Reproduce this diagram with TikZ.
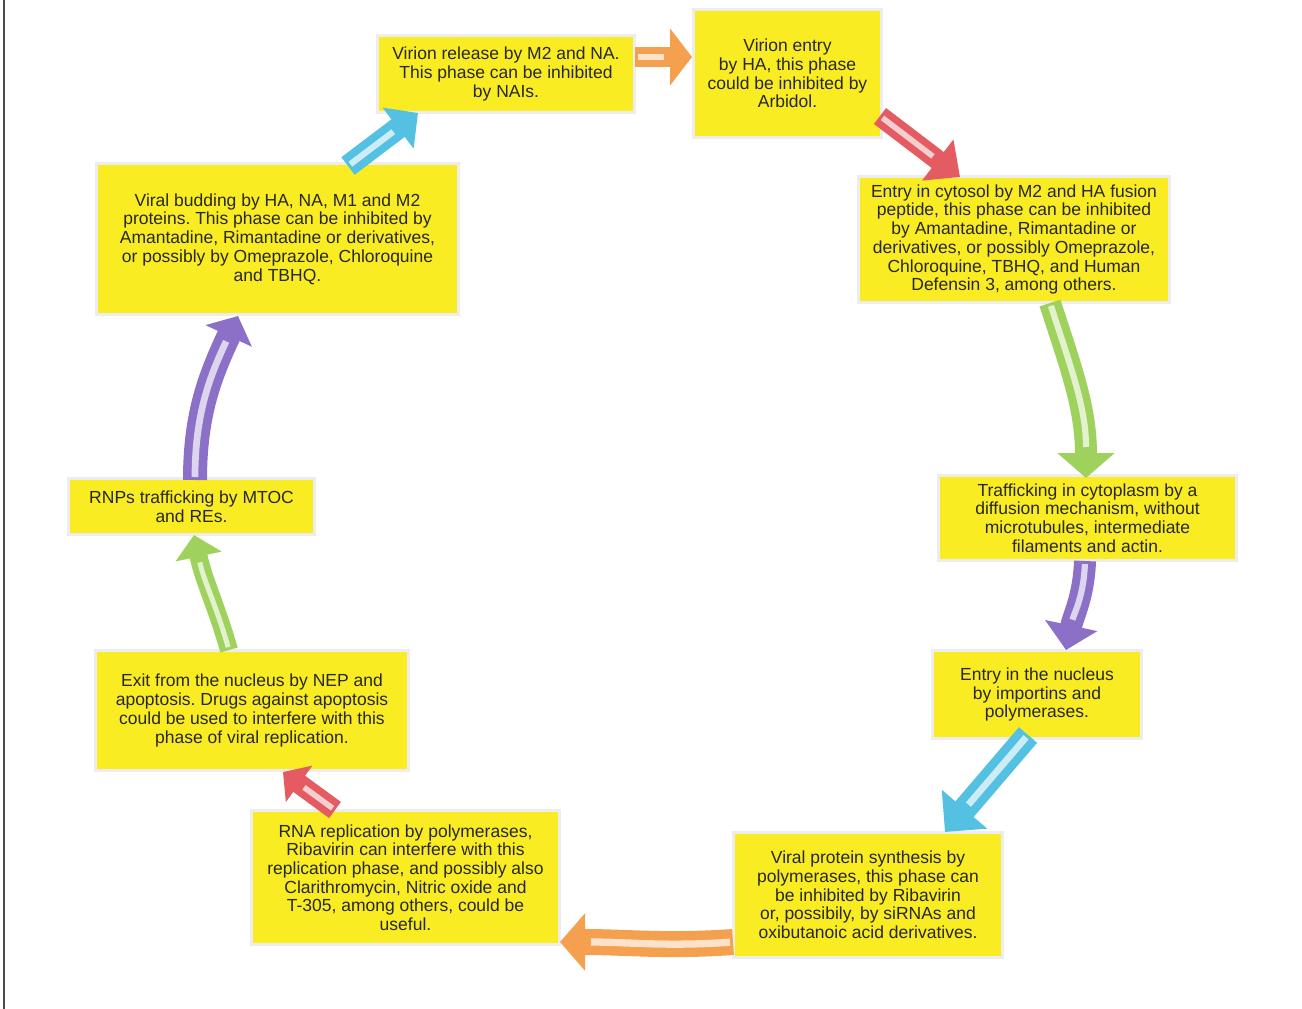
\documentclass[tikz,border=0pt]{standalone}
\usepackage{fontspec}
\setmainfont{Liberation Sans}
\usetikzlibrary{arrows.meta}
\frenchspacing
\definecolor{boxyellow}{RGB}{249,236,34}
\definecolor{txt}{RGB}{40,40,40}
\definecolor{aorange}{RGB}{244,160,78}
\definecolor{ared}{RGB}{228,92,98}
\definecolor{agreen}{RGB}{158,210,92}
\definecolor{apurple}{RGB}{140,112,200}
\definecolor{acyan}{RGB}{84,192,226}
\newcommand\blockarrow[7]{%
  \draw[draw=#1, line width=#2pt, -{Triangle[length=#4pt,width=#3pt]}] (#5) #6 (#7);
  \draw[draw=#1!30!white, line width=0.28*#2pt, shorten >=#4pt+6pt, shorten <=3pt] (#5) #6 (#7);
}
\begin{document}
\begin{tikzpicture}[x=1pt,y=-1pt,
  stagebox/.style={rectangle, fill=boxyellow, preaction={draw=black!7, line width=6pt},
    text=txt, align=center, inner sep=0pt,
    font=\frenchspacing\fontsize{17.5}{18.7}\selectfont}]
\useasboundingbox (0,0) rectangle (1302,1009);
\fill[white] (0,0) rectangle (1302,1009);
\draw[black!70, line width=1.3pt] (4,0) -- (4,1009);

\node[stagebox, minimum width=254pt, minimum height=74pt] (rel) at (506,74)
  {Virion release by M2 and NA.\\This phase can be inhibited\\by NAIs.};
\node[stagebox, minimum width=185pt, minimum height=125pt] (ent) at (787.5,73.5)
  {Virion entry\\by HA, this phase\\could be inhibited by\\Arbidol.};
\node[stagebox, minimum width=308pt, minimum height=123pt] (cyt) at (1014,239.5)
  {Entry in cytosol by M2 and HA fusion\\peptide, this phase can be inhibited\\by Amantadine, Rimantadine or\\derivatives, or possibly Omeprazole,\\Chloroquine, TBHQ, and Human\\Defensin 3, among others.};
\node[stagebox, minimum width=295pt, minimum height=82pt] (traf) at (1087.5,518)
  {Trafficking in cytoplasm by a\\diffusion mechanism, without\\microtubules, intermediate\\filaments and actin.};
\node[stagebox, minimum width=206pt, minimum height=85pt] (nuc) at (1037,694.5)
  {Entry in the nucleus\\by importins and\\polymerases.};
\node[stagebox, minimum width=266pt, minimum height=122pt] (prot) at (868,895)
  {Viral protein synthesis by\\polymerases, this phase can\\be inhibited by Ribavirin\\or, possibily, by siRNAs and\\oxibutanoic acid derivatives.};
\node[stagebox, minimum width=305pt, minimum height=131pt] (rna) at (405.5,877.5)
  {RNA replication by polymerases,\\Ribavirin can interfere with this\\replication phase, and possibly also\\Clarithromycin, Nitric oxide and\\T-305, among others, could be\\useful.};
\node[stagebox, minimum width=310pt, minimum height=117pt] (exit) at (252,710.5)
  {Exit from the nucleus by NEP and\\apoptosis. Drugs against apoptosis\\could be used to interfere with this\\phase of viral replication.};
\node[stagebox, minimum width=243pt, minimum height=53pt] (rnp) at (191.5,506.5)
  {RNPs trafficking by MTOC\\and REs.};
\node[stagebox, minimum width=359pt, minimum height=148pt] (bud) at (277.5,239)
  {Viral budding by HA, NA, M1 and M2\\proteins. This phase can be inhibited by\\Amantadine, Rimantadine or derivatives,\\or possibly by Omeprazole, Chloroquine\\and TBHQ.};

% arrow end points
\coordinate (s1) at (635,57);   \coordinate (t1) at (692,57);
\coordinate (s2) at (880,116);  \coordinate (t2) at (960,177);
\coordinate (s3) at (1050,303); \coordinate (t3) at (1086,478);
\coordinate (s4) at (1085,561); \coordinate (t4) at (1066,650);
\coordinate (s5) at (1028,735); \coordinate (t5) at (945,832);
\coordinate (s6) at (733,942);  \coordinate (t6) at (560,942);
\coordinate (s7) at (335,810);  \coordinate (t7) at (283,772);
\coordinate (s8) at (229,650);  \coordinate (t8) at (194,535);
\coordinate (s9) at (195,480);  \coordinate (t9) at (238,316);
\coordinate (s10) at (348,166); \coordinate (t10) at (418,113);

\blockarrow{aorange}{20}{56}{22}{s1}{--}{t1}
\blockarrow{ared}{20}{50}{28}{s2}{--}{t2}
\blockarrow{agreen}{22}{56}{25}{s3}{to[out=-72,in=90]}{t3}
\blockarrow{apurple}{22}{52}{25}{s4}{to[out=-92,in=78]}{t4}
\blockarrow{acyan}{24}{58}{30}{s5}{--}{t5}
\blockarrow{aorange}{26}{56}{25}{s6}{to[out=184,in=0]}{t6}
\blockarrow{ared}{20}{44}{20}{s7}{--}{t7}
\blockarrow{agreen}{18}{46}{22}{s8}{to[out=106,in=-78]}{t8}
\blockarrow{apurple}{24}{50}{22}{s9}{to[out=90,in=-115]}{t9}
\blockarrow{acyan}{22}{50}{25}{s10}{--}{t10}
\end{tikzpicture}
\end{document}
